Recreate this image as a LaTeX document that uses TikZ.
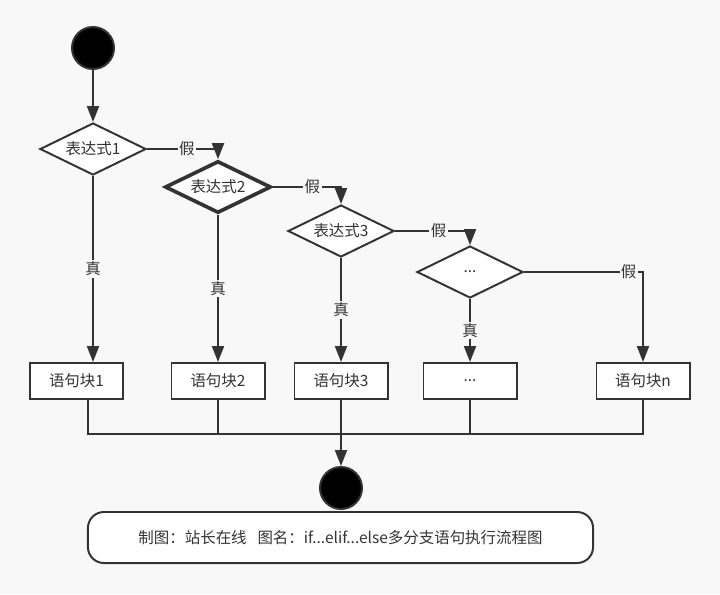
\documentclass[tikz,border=0pt]{standalone}
\usepackage{fontspec}
\usepackage{tikz}
\usetikzlibrary{arrows.meta,positioning,shapes.geometric}
\newfontfamily\cjk{Noto Sans CJK SC}
\definecolor{ink}{RGB}{51,51,51}
\definecolor{paper}{RGB}{248,248,248}

\begin{document}
\begin{tikzpicture}[x=0.025cm,y=-0.025cm,font=\cjk\fontsize{11}{13}\selectfont,text=ink,
  >={Triangle[length=0.4cm,width=0.3cm]},
  decision/.style={diamond,draw=ink,line width=1.4pt,fill=white,shape aspect=2,inner sep=0pt,
                   minimum width=2.65cm,minimum height=1.3cm},
  block/.style={rectangle,draw=ink,line width=1.4pt,fill=white,inner sep=0pt,
                minimum width=2.325cm,minimum height=0.9cm},
  terminal/.style={circle,draw=ink,line width=1.4pt,fill=black,inner sep=0pt,minimum size=1.05cm},
  flow/.style={->,draw=ink,line width=1.4pt},
  mergeline/.style={draw=ink,line width=1.4pt},
  lbl/.style={fill=paper,inner sep=1pt}]
% canvas
\fill[paper] (0,0) rectangle (720,594);
% decisions
\node[terminal] (start) at (93,48) {};
\node[decision] (d1) at (93,149) {表达式1};
\node[decision,line width=2.6pt] (d2) at (218,187) {表达式2};
\node[decision] (d3) at (341,231) {表达式3};
\node[decision] (d4) at (470,272) {...};
% statement blocks
\node[block] (b1) at (76.5,381) {语句块1};
\node[block] (b2) at (218,381) {语句块2};
\node[block] (b3) at (341,381) {语句块3};
\node[block] (b4) at (470,381) {...};
\node[block] (bn) at (643,381) {语句块n};
\node[terminal] (stop) at (341,488) {};
\coordinate (m) at (341,434);
% false branches
\draw[flow] (start) -- (d1);
\draw[flow] (d1.east) -| node[lbl,pos=0.28]{假} (d2.north);
\draw[flow] (d2.east) -| node[lbl,pos=0.29]{假} (d3.north);
\draw[flow] (d3.east) -| node[lbl,pos=0.29]{假} (d4.north);
\draw[flow] (d4.east) -| node[lbl,pos=0.44]{假} (bn.north);
% true branches
\draw[flow] (d1) -- node[lbl]{真} (d1 |- b1.north);
\draw[flow] (d2) -- node[lbl]{真} (b2);
\draw[flow] (d3) -- node[lbl]{真} (b3);
\draw[flow] (d4) -- node[lbl]{真} (b4);
% merge
\draw[mergeline] ([xshift=0.29cm]b1.south) |- (m) -| (bn.south);
\draw[mergeline] (b2) -- (b2 |- m);
\draw[mergeline] (b4) -- (b4 |- m);
\draw[flow] (b3) -- (stop);
% caption
\node[draw=ink,line width=1.4pt,fill=white,rounded corners=0.4cm,
      minimum width=12.625cm,minimum height=1.275cm] (cap) at (340.5,537.5)
      {制图：站长在线\hspace{0.7em}图名：if...elif...else多分支语句执行流程图};
\end{tikzpicture}
\end{document}
